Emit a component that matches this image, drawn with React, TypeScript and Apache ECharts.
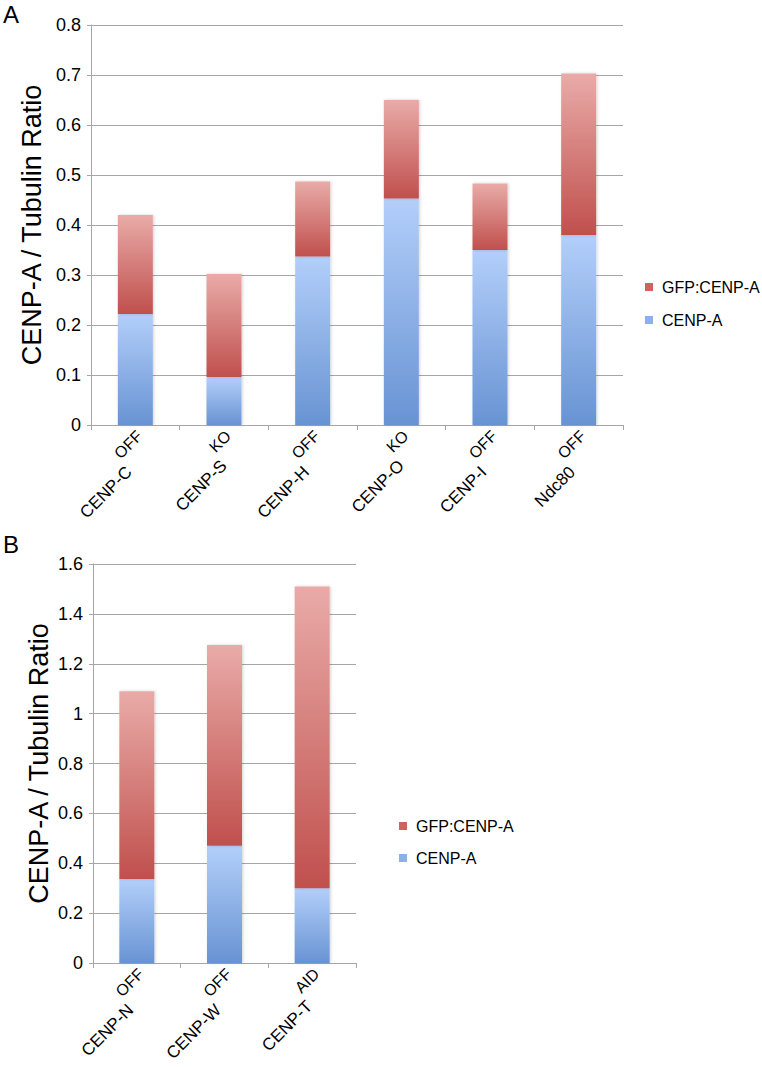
import React, { useEffect, useRef } from "react";
import * as echarts from "echarts";

const FONT = "'Liberation Sans', Arial, Helvetica, sans-serif";

// Panel A
const catsA = ["CENP-C", "CENP-S", "CENP-H", "CENP-O", "CENP-I", "Ndc80"];
const supA = ["OFF", "KO", "OFF", "KO", "OFF", "OFF"];
const cenpA_A = [0.222, 0.096, 0.337, 0.453, 0.35, 0.38];
const gfpA = [0.198, 0.206, 0.15, 0.197, 0.133, 0.323];

// Panel B
const catsB = ["CENP-N", "CENP-W", "CENP-T"];
const supB = ["OFF", "OFF", "AID"];
const cenpA_B = [0.337, 0.47, 0.3];
const gfpB = [0.753, 0.805, 1.21];

const yTitle = "CENP-A / Tubulin Ratio";
const legendNames = ["GFP:CENP-A", "CENP-A"];

const MAIN_SIZE = 17;
const SUP_SIZE = 16;

const blueGrad = () =>
  new echarts.graphic.LinearGradient(0, 0, 0, 1, [
    { offset: 0, color: "#b3cffa" },
    { offset: 1, color: "#6893d3" },
  ]);
const redGrad = () =>
  new echarts.graphic.LinearGradient(0, 0, 0, 1, [
    { offset: 0, color: "#e9aba8" },
    { offset: 1, color: "#c0504d" },
  ]);

const GRID_GRAY = "#a6a6a6";

function xAxisFor(gridIndex: number, cats: string[]) {
  return {
    type: "category",
    gridIndex,
    data: cats,
    axisLine: { show: true, lineStyle: { color: GRID_GRAY, width: 1 } },
    axisTick: { show: true, length: 5, lineStyle: { color: GRID_GRAY } },
    axisLabel: { show: false },
  };
}

function yAxisFor(gridIndex: number, max: number, interval: number) {
  return {
    type: "value",
    gridIndex,
    min: 0,
    max,
    interval,
    name: yTitle,
    nameLocation: "middle",
    nameRotate: 90,
    nameGap: 41,
    nameTextStyle: { fontSize: 27, fontFamily: FONT, color: "#000" },
    axisLine: { show: true, lineStyle: { color: GRID_GRAY, width: 1 } },
    axisTick: { show: true, length: 4, lineStyle: { color: GRID_GRAY } },
    axisLabel: { fontSize: 18, fontFamily: FONT, color: "#000", margin: 10 },
    splitLine: { show: true, lineStyle: { color: GRID_GRAY, width: 1 } },
  };
}

const shadow = { shadowBlur: 3, shadowColor: "rgba(0,0,0,0.18)", shadowOffsetX: 1, shadowOffsetY: 0 };

const letterGraphics = [
  { type: "text", left: 3, top: 2, silent: true, style: { text: "A", fontSize: 24, fontFamily: FONT, fill: "#000" } },
  { type: "text", left: 3, top: 532, silent: true, style: { text: "B", fontSize: 24, fontFamily: FONT, fill: "#000" } },
];

export default function App() {
  const ref = useRef<HTMLDivElement>(null);
  useEffect(() => {
    const el = ref.current;
    if (!el) return;
    const chart = echarts.init(el, undefined, { renderer: "svg" });
    chart.setOption({
      animation: false,
      backgroundColor: "#ffffff",
      textStyle: { fontFamily: FONT },
      grid: [
        { left: 91, top: 25, width: 532, height: 400, outerBoundsMode: "none", containLabel: false },
        { left: 93, top: 564, width: 263, height: 399, outerBoundsMode: "none", containLabel: false },
      ],
      xAxis: [xAxisFor(0, catsA), xAxisFor(1, catsB)],
      yAxis: [yAxisFor(0, 0.8, 0.1), yAxisFor(1, 1.6, 0.2)],
      legend: [
        {
          orient: "vertical",
          left: 640,
          top: 274,
          itemWidth: 8,
          itemHeight: 8,
          itemGap: 17,
          icon: "rect",
          textStyle: { fontSize: 16, fontFamily: FONT, color: "#000", padding: [0, 0, 0, 4] },
          data: [
            { name: legendNames[0], itemStyle: { color: "#d0625e" } },
            { name: legendNames[1], itemStyle: { color: "#8cb0ea" } },
          ],
        },
        {
          orient: "vertical",
          left: 394,
          top: 813,
          itemWidth: 8,
          itemHeight: 8,
          itemGap: 16,
          icon: "rect",
          textStyle: { fontSize: 16, fontFamily: FONT, color: "#000", padding: [0, 0, 0, 4] },
          data: [
            { name: legendNames[0], itemStyle: { color: "#d0625e" } },
            { name: legendNames[1], itemStyle: { color: "#8cb0ea" } },
          ],
        },
      ],
      graphic: letterGraphics,
      series: [
        {
          name: "CENP-A", type: "bar", stack: "a", xAxisIndex: 0, yAxisIndex: 0, barWidth: 35,
          itemStyle: { color: blueGrad(), ...shadow }, data: cenpA_A,
        },
        {
          name: "GFP:CENP-A", type: "bar", stack: "a", xAxisIndex: 0, yAxisIndex: 0, barWidth: 35,
          itemStyle: { color: redGrad(), ...shadow }, data: gfpA,
        },
        {
          name: "CENP-A", type: "bar", stack: "b", xAxisIndex: 1, yAxisIndex: 1, barWidth: 35,
          itemStyle: { color: blueGrad(), ...shadow }, data: cenpA_B,
        },
        {
          name: "GFP:CENP-A", type: "bar", stack: "b", xAxisIndex: 1, yAxisIndex: 1, barWidth: 35,
          itemStyle: { color: redGrad(), ...shadow }, data: gfpB,
        },
      ],
    });

    // Rotated category labels with superscripts, placed at the category positions given by the axes.
    const canvas = document.createElement("canvas");
    const ctx = canvas.getContext("2d");
    const measure = (t: string) => {
      if (!ctx) return t.length * SUP_SIZE * 0.66;
      ctx.font = `${SUP_SIZE}px ${FONT}`;
      return ctx.measureText(t).width;
    };
    const makeLabels = (gridIndex: number, cats: string[], sups: string[]) =>
      cats.map((c, i) => {
        const p = chart.convertToPixel({ gridIndex } as any, [i, 0]) as number[];
        const sw = measure(sups[i]);
        return {
          type: "group",
          x: p[0],
          y: p[1] + 4,
          rotation: Math.PI / 4,
          silent: true,
          children: [
            {
              type: "text",
              x: 0,
              y: 6,
              style: {
                text: sups[i], fontSize: SUP_SIZE, fontFamily: FONT, fill: "#000",
                align: "right", verticalAlign: "middle",
              },
            },
            {
              type: "text",
              x: -sw - 1,
              y: 24,
              style: {
                text: c, fontSize: MAIN_SIZE, fontFamily: FONT, fill: "#000",
                align: "right", verticalAlign: "middle",
              },
            },
          ],
        };
      });

    chart.setOption({
      graphic: [
        ...letterGraphics,
        ...makeLabels(0, catsA, supA),
        ...makeLabels(1, catsB, supB),
      ],
    });

    return () => chart.dispose();
  }, []);
  return (
    <div
      ref={ref}
      style={{ position: "absolute", left: 0, top: 0, width: 762, height: 1067, background: "#fff" }}
    />
  );
}
